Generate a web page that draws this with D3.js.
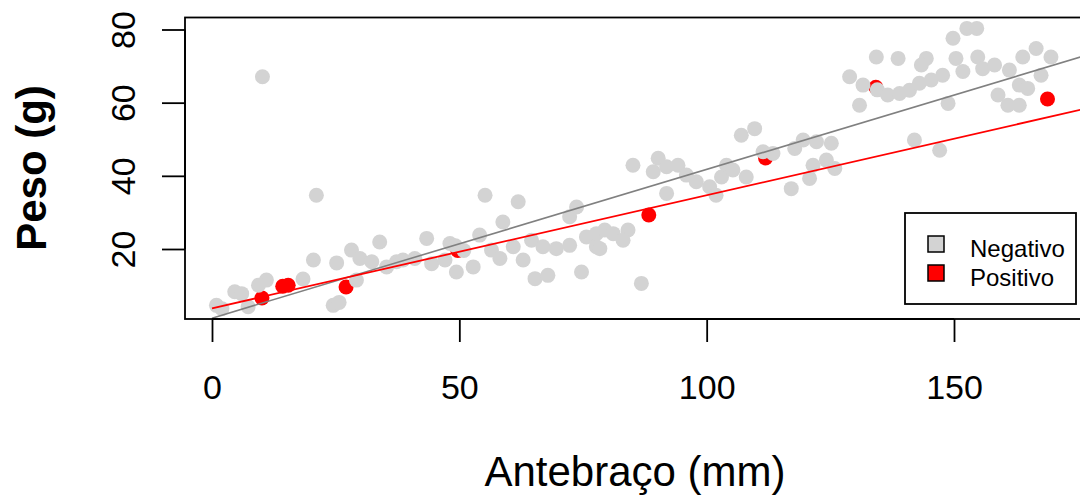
<!DOCTYPE html>
<html lang='pt'>
  <head>
    <meta charset='utf-8'>
    <title>Peso x Antebraço</title>
    <script type='text/javascript' src='https://cdn.jsdelivr.net/npm/d3@7'></script>
    <style type='text/css'>
      body { margin: 0; background: white; }
      svg { display: block; background-color: white; font-family: 'Liberation Sans', Arial, sans-serif; }
    </style>
  </head>
  <body>
    <div id='chart'></div>
    <script type='text/javascript'>

    // Dados (antebraço mm, peso g)
    var negativo = [
      [21.1,34.7],[33.9,21.9],[28.2,19.7],[29.9,17.4],[32.3,16.5],[20.5,17.0],[25.2,16.2],
      [35.3,15.1],[37.3,16.5],[18.4,11.8],[11.0,11.5],[9.4,10.1],[4.6,8.3],[6.0,7.8],
      [0.9,4.6],[7.3,4.2],[24.5,4.6],[25.7,5.4],[29.2,11.5],[2.0,3.7],[10.2,67.1],
      [55.2,34.7],[61.9,32.9],[43.4,22.9],[58.8,27.4],[54.1,23.8],[48.1,21.5],[38.6,17.0],
      [41.0,17.4],[44.4,16.0],[47.1,17.0],[49.4,13.7],[52.8,15.1],[56.5,19.7],[58.2,17.4],
      [60.9,20.6],[62.9,17.0],[64.6,22.4],[65.3,11.9],[67.9,12.8],[74.7,13.7],[66.9,20.6],
      [69.6,20.1],[72.3,21.0],[73.7,31.5],[72.3,28.8],[75.7,23.3],[77.7,20.6],
      [50.9,19.6],[49.2,20.9],
      [107.0,51.1],[109.7,52.9],[85.1,42.9],[90.2,44.8],[89.2,41.1],[91.9,42.5],[94.2,42.9],
      [95.9,40.2],[97.9,38.4],[91.9,35.2],[100.6,37.0],[101.9,34.7],[103.0,39.7],[104.0,42.9],
      [105.3,41.6],[108.0,39.7],[111.4,46.6],[113.4,46.1],[117.1,36.5],[117.8,47.5],
      [77.7,24.2],[79.4,25.2],[81.1,24.2],[84.1,25.2],[83.1,22.4],[78.4,20.1],[86.8,10.6],
      [134.3,72.5],[138.7,72.1],[144.4,72.1],[143.4,70.3],[149.8,77.6],[152.6,80.3],[154.6,80.3],
      [150.4,72.1],[151.8,68.5],[128.9,67.1],[131.6,64.8],[134.5,63.5],[136.6,62.1],[139.0,62.5],
      [141.0,63.4],[143.0,65.3],[145.4,66.2],[147.7,67.5],[148.8,59.8],[130.9,59.3],[142.0,49.8],
      [147.1,47.0],[119.5,49.8],[122.2,49.3],[125.2,48.9],[121.5,42.9],[124.2,44.3],[125.9,42.0],
      [120.8,39.3],
      [154.8,72.5],[155.8,69.3],[158.2,70.3],[161.2,68.9],[163.9,72.5],[166.6,74.8],[169.6,72.5],
      [167.6,67.5],[163.2,64.8],[164.9,63.9],[158.9,62.1],[160.9,59.3],[163.2,59.3]
    ];

    var positivo = [
      [10.1,6.6],[14.3,9.8],[15.4,10.1],[27.1,9.6],[49.7,19.6],
      [88.3,29.3],[111.9,44.9],[134.2,64.2],[168.9,61.0]
    ];

    // retas ajustadas: [intercepto, inclinacao, x inicial, x final]
    var ajusteNegativo = [1.1, 0.4065, 0, 177];
    var ajustePositivo = [3.8, 0.309, 0, 177];

    var xTicks = [0, 50, 100, 150];
    var yTicks = [20, 40, 60, 80];
    var legenda = ['Negativo', 'Positivo'];
    var cores = ['#d3d3d3', '#ff0000'];

    // Dimensions
    var width = 1080, height = 495;
    var box = { left: 185, right: 1123, top: 17.5, bottom: 319 };

    var svg = d3.select('#chart')
        .append('svg')
        .attr('width', width)
        .attr('height', height);

    // Scales
    var xScale = d3.scaleLinear().domain([0, 150]).range([212, 954]);
    var yScale = d3.scaleLinear().domain([20, 80]).range([249, 29.5]);

    // points: red first, grey on top (as in the picture)
    var pts = svg.append('g');
    pts.selectAll('circle.pos')
        .data(positivo)
        .enter()
        .append('circle')
        .attr('class', 'pos')
        .attr('cx', function(d) { return xScale(d[0]); })
        .attr('cy', function(d) { return yScale(d[1]); })
        .attr('r', 7.5)
        .attr('fill', cores[1]);

    pts.selectAll('circle.neg')
        .data(negativo)
        .enter()
        .append('circle')
        .attr('class', 'neg')
        .attr('cx', function(d) { return xScale(d[0]); })
        .attr('cy', function(d) { return yScale(d[1]); })
        .attr('r', 7.5)
        .attr('fill', cores[0]);

    // regression lines
    function reta(a) {
      return [[a[2], a[0] + a[1] * a[2]], [a[3], a[0] + a[1] * a[3]]];
    }
    var line = d3.line()
        .x(function(d) { return xScale(d[0]); })
        .y(function(d) { return yScale(d[1]); });

    svg.append('path')
        .attr('d', line(reta(ajusteNegativo)))
        .attr('stroke', '#808080')
        .attr('stroke-width', 1.6)
        .attr('fill', 'none');

    svg.append('path')
        .attr('d', line(reta(ajustePositivo)))
        .attr('stroke', cores[1])
        .attr('stroke-width', 1.8)
        .attr('fill', 'none');

    // box
    svg.append('rect')
        .attr('x', box.left)
        .attr('y', box.top)
        .attr('width', box.right - box.left)
        .attr('height', box.bottom - box.top)
        .attr('fill', 'none')
        .attr('stroke', '#000')
        .attr('stroke-width', 1.8);

    // Axis
    var xAxis = d3.axisBottom(xScale).tickValues(xTicks).tickSize(23).tickPadding(33);
    var gx = svg.append('g')
        .attr('transform', 'translate(0,' + box.bottom + ')')
        .call(xAxis);
    gx.select('.domain').attr('d', 'M' + xScale(0) + ',0H' + xScale(150)).attr('stroke-width', 1.8);
    gx.selectAll('line').attr('stroke-width', 1.8);
    gx.selectAll('text')
        .attr('font-size', 34)
        .attr('font-family', "'Liberation Sans', Arial, sans-serif")
        .attr('fill', '#000');

    var yAxis = d3.axisLeft(yScale).tickValues(yTicks).tickSize(23);
    var gy = svg.append('g')
        .attr('transform', 'translate(' + box.left + ',0)')
        .call(yAxis);
    gy.select('.domain').attr('d', 'M0,' + yScale(20) + 'V' + yScale(80)).attr('stroke-width', 1.8);
    gy.selectAll('line').attr('stroke-width', 1.8);
    gy.selectAll('text')
        .attr('x', null)
        .attr('dy', null)
        .attr('transform', 'translate(-50,0) rotate(-90)')
        .attr('text-anchor', 'middle')
        .attr('font-size', 34)
        .attr('font-family', "'Liberation Sans', Arial, sans-serif")
        .attr('fill', '#000');

    // axis titles
    svg.append('text')
        .attr('x', 635)
        .attr('y', 486)
        .attr('text-anchor', 'middle')
        .attr('font-size', 42)
        .text('Antebraço (mm)');

    svg.append('text')
        .attr('transform', 'translate(46,168) rotate(-90)')
        .attr('text-anchor', 'middle')
        .attr('font-size', 42)
        .attr('font-weight', 'bold')
        .text('Peso (g)');

    // legend
    var leg = svg.append('g').attr('transform', 'translate(905,213)');
    leg.append('rect')
        .attr('width', 171)
        .attr('height', 91)
        .attr('fill', 'white')
        .attr('stroke', '#000')
        .attr('stroke-width', 1.8);
    legenda.forEach(function(nome, i) {
      leg.append('rect')
          .attr('x', 23)
          .attr('y', 23 + i * 29)
          .attr('width', 16)
          .attr('height', 16)
          .attr('fill', cores[i])
          .attr('stroke', '#000')
          .attr('stroke-width', 1.5);
      leg.append('text')
          .attr('x', 65)
          .attr('y', 43.5 + i * 29)
          .attr('font-size', 24)
          .text(nome);
    });

    </script>
  </body>
</html>
